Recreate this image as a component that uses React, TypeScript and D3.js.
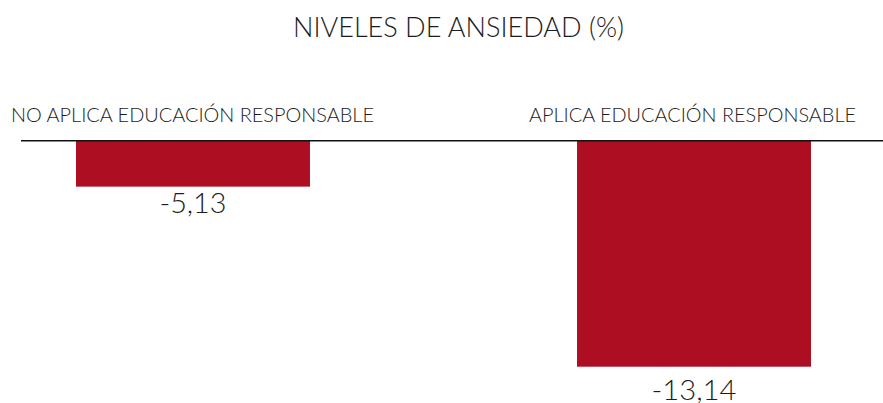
import React from 'react';
import * as d3 from 'd3';

// chart values
const categories = ['NO APLICA EDUCACIÓN RESPONSABLE', 'APLICA EDUCACIÓN RESPONSABLE'];
const values = [-5.13, -13.14];
const valueLabels = ['-5,13', '-13,14'];
const title = 'NIVELES DE ANSIEDAD (%)';

const W = 883;
const H = 403;
const FONT = 'Lato, "Open Sans", sans-serif';
const RED = '#AE0E22';
const INK = '#1c1c1c';

export default function App() {
  const x = d3.scaleBand<string>()
    .domain(categories)
    .range([76, 811])
    .paddingInner(0.533)
    .paddingOuter(0);

  // axis baseline sits at about -3.1, not at zero
  const y = d3.scaleLinear()
    .domain([-3.1, -13.14])
    .range([141, 366.7]);

  const catWidths = [363, 327];
  const catCenters = [192.5, 692.5];
  const valWidths = [67, 85];
  const valOffsets = [26.8, 33.3];

  return (
    <svg width={W} height={H} style={{ position: 'absolute', left: 0, top: 0 }}>
      <rect width={W} height={H} fill="#fff" />
      <text x={458.5} y={37} textAnchor="middle" fontFamily={FONT} fontSize={28} fontWeight={300}
        fill={INK} textLength={331} lengthAdjust="spacingAndGlyphs">{title}</text>

      {categories.map((c, i) => (
        <text key={c} x={catCenters[i]} y={121.5} textAnchor="middle" fontFamily={FONT}
          fontSize={20.5} fontWeight={300} fill={INK} textLength={catWidths[i]}
          lengthAdjust="spacingAndGlyphs">{c}</text>
      ))}

      {values.map((v, i) => {
        const x0 = x(categories[i]) as number;
        const bw = x.bandwidth();
        const top = y(y.domain()[0]);
        const bottom = y(v);
        return (
          <g key={i}>
            <rect x={x0} y={top} width={bw} height={bottom - top} fill={RED} />
            <text x={x0 + bw / 2} y={bottom + valOffsets[i]} textAnchor="middle" fontFamily={FONT}
              fontSize={27} fontWeight={300} fill={INK} textLength={valWidths[i]}
              lengthAdjust="spacingAndGlyphs">{valueLabels[i]}</text>
          </g>
        );
      })}

      <line x1={21} x2={W} y1={140.7} y2={140.7} stroke="#111" strokeWidth={1.4} />
    </svg>
  );
}
